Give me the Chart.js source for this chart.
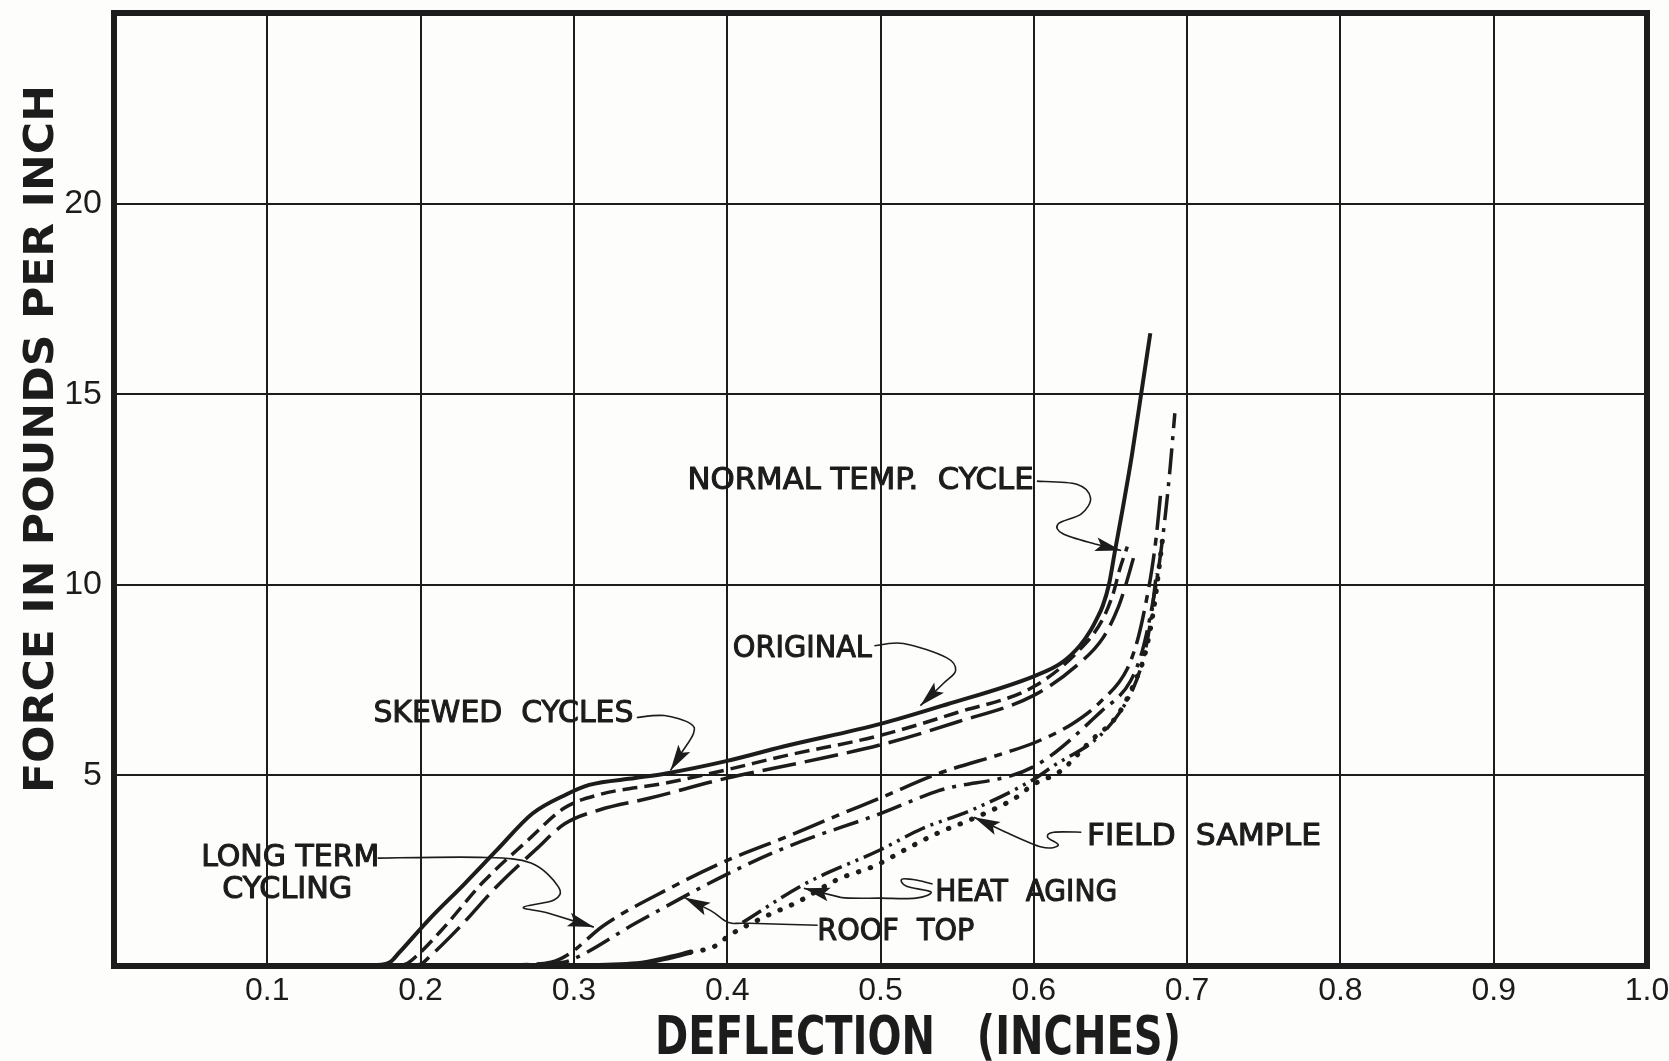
<!DOCTYPE html>
<html>
<head>
<meta charset="utf-8">
<script src="https://cdn.jsdelivr.net/npm/chart.js@4.4.1/dist/chart.umd.min.js"></script>
<style>
  html, body { margin: 0; padding: 0; background: #fdfdfc; }
  #wrap { width: 1669px; height: 1061px; position: relative; }
</style>
</head>
<body>
<div id="wrap"><canvas id="chart"></canvas></div>
<script>
// tick labels as printed on the sheet
const xTickLabels = ['', '0.1', '0.2', '0.3', '0.4', '0.5', '0.6', '0.7', '0.8', '0.9', '1.0'];
const yTickLabels = ['', '5', '10', '15', '20', ''];

// left group of curves
const originalX = [0.150, 0.170, 0.180, 0.186, 0.205, 0.229, 0.250, 0.273, 0.295, 0.310, 0.340, 0.360, 0.400, 0.436, 0.500, 0.543, 0.600, 0.618, 0.630, 0.637, 0.641, 0.645, 0.649, 0.653, 0.658, 0.664, 0.670, 0.676];
const originalY = [0.00, 0.02, 0.10, 0.35, 1.20, 2.17, 3.05, 4.00, 4.50, 4.75, 4.93, 5.05, 5.38, 5.75, 6.35, 6.86, 7.60, 7.95, 8.40, 8.80, 9.10, 9.45, 10.0, 10.9, 12.0, 13.4, 15.0, 16.6];

const normalX = [0.175, 0.190, 0.197, 0.215, 0.240, 0.270, 0.294, 0.317, 0.360, 0.400, 0.436, 0.500, 0.550, 0.600, 0.630, 0.645, 0.652, 0.656, 0.661];
const normalY = [0.00, 0.05, 0.25, 1.00, 2.17, 3.30, 4.15, 4.50, 4.80, 5.15, 5.50, 6.05, 6.65, 7.33, 8.30, 9.10, 9.80, 10.4, 11.0];

const skewedX = [0.185, 0.200, 0.206, 0.225, 0.250, 0.275, 0.294, 0.317, 0.349, 0.400, 0.450, 0.500, 0.550, 0.600, 0.630, 0.645, 0.655, 0.660, 0.665];
const skewedY = [0.00, 0.05, 0.25, 1.00, 2.10, 3.05, 3.73, 4.10, 4.40, 4.93, 5.35, 5.80, 6.40, 7.10, 7.95, 8.60, 9.40, 10.0, 10.7];

// right group of curves
const longTermX = [0.200, 0.260, 0.285, 0.297, 0.319, 0.363, 0.400, 0.440, 0.472, 0.500, 0.538, 0.582, 0.600, 0.625, 0.644, 0.661, 0.668, 0.673, 0.677, 0.680, 0.683];
const longTermY = [0.00, 0.03, 0.10, 0.32, 1.05, 2.05, 2.77, 3.41, 3.95, 4.41, 5.05, 5.60, 5.85, 6.35, 6.95, 7.80, 8.60, 9.50, 10.4, 11.3, 12.5];

const roofTopX = [0.220, 0.275, 0.290, 0.297, 0.341, 0.400, 0.440, 0.500, 0.538, 0.600, 0.644, 0.663, 0.671, 0.677, 0.682, 0.686, 0.689, 0.692];
const roofTopY = [0.00, 0.03, 0.08, 0.14, 1.14, 2.41, 3.14, 4.00, 4.60, 5.23, 6.68, 7.47, 8.30, 9.40, 10.6, 11.9, 13.1, 14.5];

const heatAgingX = [0.410, 0.450, 0.500, 0.527, 0.560, 0.600, 0.611, 0.648, 0.665, 0.671, 0.676, 0.680];
const heatAgingY = [1.14, 2.14, 3.05, 3.60, 4.10, 4.90, 5.20, 6.24, 7.30, 8.00, 9.00, 10.3];

const fieldX = [0.290, 0.341, 0.363, 0.376, 0.391, 0.402, 0.426, 0.446, 0.472, 0.497, 0.516, 0.538, 0.560, 0.588, 0.600, 0.617, 0.637, 0.655, 0.667, 0.672, 0.678, 0.684];
const fieldY = [0.00, 0.06, 0.23, 0.36, 0.50, 0.82, 1.32, 1.68, 2.27, 2.64, 3.05, 3.50, 3.86, 4.41, 4.77, 5.10, 5.90, 6.60, 7.55, 8.10, 9.30, 11.2];

function pts(xs, ys) {
    return xs.map((x, i) => ({ x: x, y: ys[i] }));
}

const INK = '#1c1c1c';

// hand lettered callouts, placed in data units
const callouts = [
    { text: 'NORMAL TEMP.  CYCLE', x: 0.487, y: 12.8, w: 346,
      path: [[0.602, 12.72], [0.628, 12.64], [0.637, 12.28], [0.631, 11.86], [0.616, 11.6], [0.619, 11.34], [0.640, 11.07], [0.657, 10.9]] },
    { text: 'ORIGINAL', x: 0.449, y: 8.4, w: 139,
      path: [[0.496, 8.40], [0.515, 8.46], [0.543, 8.09], [0.549, 7.75], [0.541, 7.41], [0.526, 6.83]] },
    { text: 'SKEWED  CYCLES', x: 0.254, y: 6.7, w: 260,
      path: [[0.341, 6.52], [0.359, 6.57], [0.376, 6.36], [0.378, 6.10], [0.370, 5.58], [0.363, 5.13]] },
    { text: 'LONG TERM', x: 0.115, y: 2.93, w: 178,
      path: [[0.172, 2.83], [0.239, 2.85], [0.272, 2.70], [0.290, 2.07], [0.287, 1.73], [0.267, 1.54], [0.283, 1.39], [0.313, 1.02]] },
    { text: 'CYCLING', x: 0.113, y: 2.07, w: 130 },
    { text: 'ROOF  TOP', x: 0.510, y: 0.99, w: 157,
      path: [[0.459, 1.07], [0.414, 1.12], [0.403, 1.12], [0.398, 1.20], [0.389, 1.46], [0.372, 1.80]] },
    { text: 'HEAT  AGING', x: 0.595, y: 1.99, w: 182,
      path: [[0.534, 2.15], [0.524, 2.25], [0.514, 2.28], [0.517, 2.09], [0.533, 1.94], [0.523, 1.78], [0.500, 1.78], [0.474, 1.80], [0.450, 2.04]] },
    { text: 'FIELD  SAMPLE', x: 0.711, y: 3.48, w: 234,
      path: [[0.631, 3.51], [0.613, 3.51], [0.609, 3.38], [0.616, 3.17], [0.605, 3.12], [0.579, 3.56], [0.561, 3.90]] }
];

// draw caps text squeezed/stretched to a given width, centred on cx/cy
function fitText(ctx, text, cx, cy, width, size, weight, family, angle, stroke) {
    ctx.save();
    ctx.font = weight + ' ' + size + 'px ' + family;
    const w = ctx.measureText(text).width;
    ctx.translate(cx, cy);
    if (angle) ctx.rotate(angle);
    ctx.scale(width / w, 1);
    ctx.textAlign = 'center';
    ctx.textBaseline = 'alphabetic';
    ctx.fillStyle = INK;
    ctx.fillText(text, 0, size * 0.365);
    if (stroke) {
        ctx.strokeStyle = INK;
        ctx.lineWidth = stroke;
        ctx.lineJoin = 'round';
        ctx.strokeText(text, 0, size * 0.365);
    }
    ctx.restore();
}

function leader(ctx, p) {
    // smooth curve through the points (catmull-rom)
    ctx.beginPath();
    ctx.moveTo(p[0][0], p[0][1]);
    for (let i = 0; i < p.length - 2; i++) {
        const p0 = p[Math.max(i - 1, 0)], p1 = p[i], p2 = p[i + 1], p3 = p[Math.min(i + 2, p.length - 1)];
        ctx.bezierCurveTo(
            p1[0] + (p2[0] - p0[0]) / 6, p1[1] + (p2[1] - p0[1]) / 6,
            p2[0] - (p3[0] - p1[0]) / 6, p2[1] - (p3[1] - p1[1]) / 6,
            p2[0], p2[1]);
    }
    const a = p[p.length - 2], b = p[p.length - 1];
    ctx.lineTo(b[0], b[1]);
    ctx.stroke();
    // arrow head
    const ang = Math.atan2(b[1] - a[1], b[0] - a[0]);
    const len = 26, half = 7;
    ctx.beginPath();
    ctx.moveTo(b[0], b[1]);
    ctx.lineTo(b[0] - len * Math.cos(ang) + half * Math.sin(ang), b[1] - len * Math.sin(ang) - half * Math.cos(ang));
    ctx.lineTo(b[0] - len * 0.8 * Math.cos(ang), b[1] - len * 0.8 * Math.sin(ang));
    ctx.lineTo(b[0] - len * Math.cos(ang) - half * Math.sin(ang), b[1] - len * Math.sin(ang) + half * Math.cos(ang));
    ctx.closePath();
    ctx.fill();
}

const sheetPlugin = {
    id: 'sheet',
    beforeDraw(chart) {
        const ctx = chart.ctx;
        ctx.save();
        ctx.fillStyle = '#fdfdfc';
        ctx.fillRect(0, 0, chart.width, chart.height);
        ctx.restore();
    },
    afterDraw(chart) {
        const ctx = chart.ctx;
        const xs = chart.scales.x, ys = chart.scales.y;
        const area = chart.chartArea;
        ctx.save();
        // heavy frame
        ctx.strokeStyle = INK;
        ctx.lineWidth = 6;
        ctx.strokeRect(area.left, area.top, area.right - area.left, area.bottom - area.top);

        // callouts
        const lab = "'DejaVu Sans Condensed', 'DejaVu Sans', sans-serif";
        callouts.forEach(c => {
            fitText(ctx, c.text, xs.getPixelForValue(c.x), ys.getPixelForValue(c.y), c.w, 31, 'normal', lab, 0, 1);
            if (c.path) {
                const p = c.path.map(q => [xs.getPixelForValue(q[0]), ys.getPixelForValue(q[1])]);
                ctx.strokeStyle = INK;
                ctx.fillStyle = INK;
                ctx.lineWidth = 1.6;
                leader(ctx, p);
            }
        });

        // axis titles
        fitText(ctx, 'FORCE IN POUNDS PER INCH', 38, 439, 708, 41, 'bold', "'DejaVu Sans', sans-serif", -Math.PI / 2);
        fitText(ctx, 'DEFLECTION   (INCHES)', 918, 1035, 526, 53, 'bold', "'DejaVu Sans Condensed', 'DejaVu Sans', sans-serif");
        ctx.restore();
    }
};

const common = {
    showLine: true,
    pointRadius: 0,
    borderColor: INK,
    borderWidth: 3.5,
    fill: false,
    cubicInterpolationMode: 'monotone'
};

new Chart(document.getElementById('chart'), {
    type: 'scatter',
    data: {
        datasets: [
            { ...common, label: 'Original', data: pts(originalX, originalY), borderWidth: 4 },
            { ...common, label: 'Normal temp. cycle', data: pts(normalX, normalY), borderDash: [15, 7] },
            { ...common, label: 'Skewed cycles', data: pts(skewedX, skewedY), borderDash: [34, 9] },
            { ...common, label: 'Long term cycling', data: pts(longTermX, longTermY), borderDash: [34, 8, 8, 8] },
            { ...common, label: 'Roof top', data: pts(roofTopX, roofTopY), borderDash: [26, 8, 4, 8] },
            { ...common, label: 'Heat aging', data: pts(heatAgingX, heatAgingY), borderDash: [22, 6, 3, 6, 3, 6] },
            { ...common, label: 'Field sample', data: pts(fieldX, fieldY), borderWidth: 5, borderCapStyle: 'round',
              segment: { borderDash: c => c.p0DataIndex < 3 ? [] : [0.5, 12] } }
        ]
    },
    options: {
        responsive: true,
        maintainAspectRatio: false,
        animation: false,
        devicePixelRatio: 1,
        layout: { padding: { top: 13, right: 22, left: 0, bottom: 0 } },
        plugins: {
            legend: { display: false },
            tooltip: { enabled: false }
        },
        scales: {
            x: {
                type: 'linear',
                min: 0,
                max: 1,
                border: { display: false },
                grid: { color: INK, lineWidth: 2, drawTicks: false },
                ticks: {
                    stepSize: 0.1,
                    padding: 6,
                    color: INK,
                    maxRotation: 0,
                    autoSkip: false,
                    font: { family: "'Liberation Sans', sans-serif", size: 32 },
                    callback: (v, i) => xTickLabels[i]
                },
                afterFit: s => { s.height = 95; s.paddingLeft = 0; s.paddingRight = 0; }
            },
            y: {
                type: 'linear',
                min: 0,
                max: 25,
                border: { display: false },
                grid: { color: INK, lineWidth: 2, drawTicks: false },
                ticks: {
                    stepSize: 5,
                    padding: 12,
                    color: INK,
                    font: { family: "'Liberation Sans', sans-serif", size: 34 },
                    callback: (v, i) => yTickLabels[i]
                },
                afterFit: s => { s.width = 114; s.paddingTop = 0; s.paddingBottom = 0; }
            }
        }
    },
    plugins: [sheetPlugin]
});
</script>
</body>
</html>
